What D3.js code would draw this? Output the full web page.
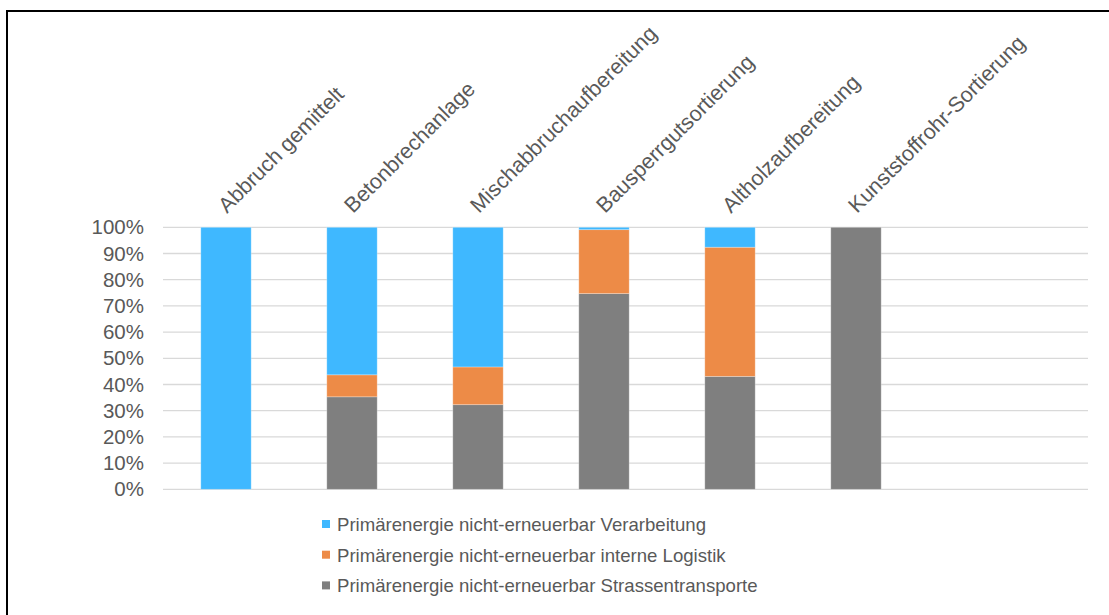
<!DOCTYPE html>
<html>
<head>
<meta charset="utf-8">
<script src="https://cdn.jsdelivr.net/npm/d3@7"></script>
<style>
  body { margin: 0; background: #fff; }
  svg { display: block; font-family: "Liberation Sans", Arial, sans-serif; }
</style>
</head>
<body>
<svg id="chart" width="1109" height="615"></svg>
<script>
// kategorien und anteile (in %)
const categories = ['Abbruch gemittelt', 'Betonbrechanlage', 'Mischabbruchaufbereitung',
  'Bausperrgutsortierung', 'Altholzaufbereitung', 'Kunststoffrohr-Sortierung'];
const strassentransporte = [0, 35.3, 32.3, 74.7, 43.1, 100];
const interneLogistik = [0, 8.4, 14.4, 24.4, 49.3, 0];
const verarbeitung = [100, 56.3, 53.3, 0.9, 7.6, 0];
const seriesNames = [
  'Primärenergie nicht-erneuerbar Verarbeitung',
  'Primärenergie nicht-erneuerbar interne Logistik',
  'Primärenergie nicht-erneuerbar Strassentransporte'
];
const yTicks = [0, 10, 20, 30, 40, 50, 60, 70, 80, 90, 100];

const colors = {
  strasse: '#7f7f7f',
  logistik: '#ed8b47',
  verarbeitung: '#3fb8ff'
};

const svg = d3.select('#chart');

// rahmen (oben und links sichtbar)
svg.append('rect')
  .attr('x', 7).attr('y', 11)
  .attr('width', 1120).attr('height', 620)
  .style('fill', 'none')
  .style('stroke', '#000')
  .style('stroke-width', 2);

const plot = { left: 163, right: 919, top: 227.3, bottom: 489.3, gridRight: 1088 };

const x = d3.scaleBand()
  .domain(categories)
  .range([plot.left, plot.right])
  .paddingInner(0.6)
  .paddingOuter(0.3);

const y = d3.scaleLinear()
  .domain([0, 100])
  .range([plot.bottom, plot.top]);

// gitterlinien
svg.append('g')
  .selectAll('line')
  .data(yTicks)
  .enter()
  .append('line')
  .attr('x1', plot.left)
  .attr('x2', plot.gridRight)
  .attr('y1', d => y(d))
  .attr('y2', d => y(d))
  .style('stroke', '#d9d9d9')
  .style('stroke-width', 1.3);

// y-achse ohne linie
const yAxis = svg.append('g')
  .attr('transform', `translate(${plot.left - 19},0)`)
  .call(d3.axisLeft(y).tickValues(yTicks).tickSize(0).tickPadding(0).tickFormat(d => d + '%'));
yAxis.select('.domain').remove();
yAxis.selectAll('text')
  .style('font-family', '"Liberation Sans", Arial, sans-serif')
  .style('font-size', '20.5px')
  .style('fill', '#595959');

// gestapelte daten
const rows = categories.map((c, i) => ({
  category: c,
  strasse: strassentransporte[i],
  logistik: interneLogistik[i],
  verarbeitung: verarbeitung[i]
}));
const keys = ['strasse', 'logistik', 'verarbeitung'];
const stacked = d3.stack().keys(keys)(rows);

svg.append('g')
  .selectAll('g.layer')
  .data(stacked)
  .enter()
  .append('g')
  .classed('layer', true)
  .style('fill', d => colors[d.key])
  .selectAll('rect')
  .data(d => d.filter(p => p[1] - p[0] > 0))
  .enter()
  .append('rect')
  .attr('x', d => x(d.data.category))
  .attr('width', x.bandwidth())
  .attr('y', d => y(d[1]))
  .attr('height', d => y(d[0]) - y(d[1]))
  .style('stroke', '#ffffff')
  .style('stroke-opacity', 0.35)
  .style('stroke-width', 0.8);

// kategorie-beschriftungen schräg
svg.append('g')
  .selectAll('text')
  .data(categories)
  .enter()
  .append('text')
  .attr('transform', d => `translate(${x(d) + x.bandwidth() / 2 + 1},214) rotate(-45)`)
  .style('font-size', '21.5px')
  .style('fill', '#595959')
  .text(d => d);

// legende
const legendColors = [colors.verarbeitung, colors.logistik, colors.strasse];
const legend = svg.append('g')
  .selectAll('g')
  .data(seriesNames)
  .enter()
  .append('g')
  .attr('transform', (d, i) => `translate(322,${524 + i * 30.7})`);

legend.append('rect')
  .attr('x', 0)
  .attr('y', -4)
  .attr('width', 8)
  .attr('height', 8)
  .style('fill', (d, i) => legendColors[i]);

legend.append('text')
  .attr('x', 15)
  .attr('y', 6.8)
  .style('font-size', '18.6px')
  .style('fill', '#595959')
  .text(d => d);
</script>
</body>
</html>
